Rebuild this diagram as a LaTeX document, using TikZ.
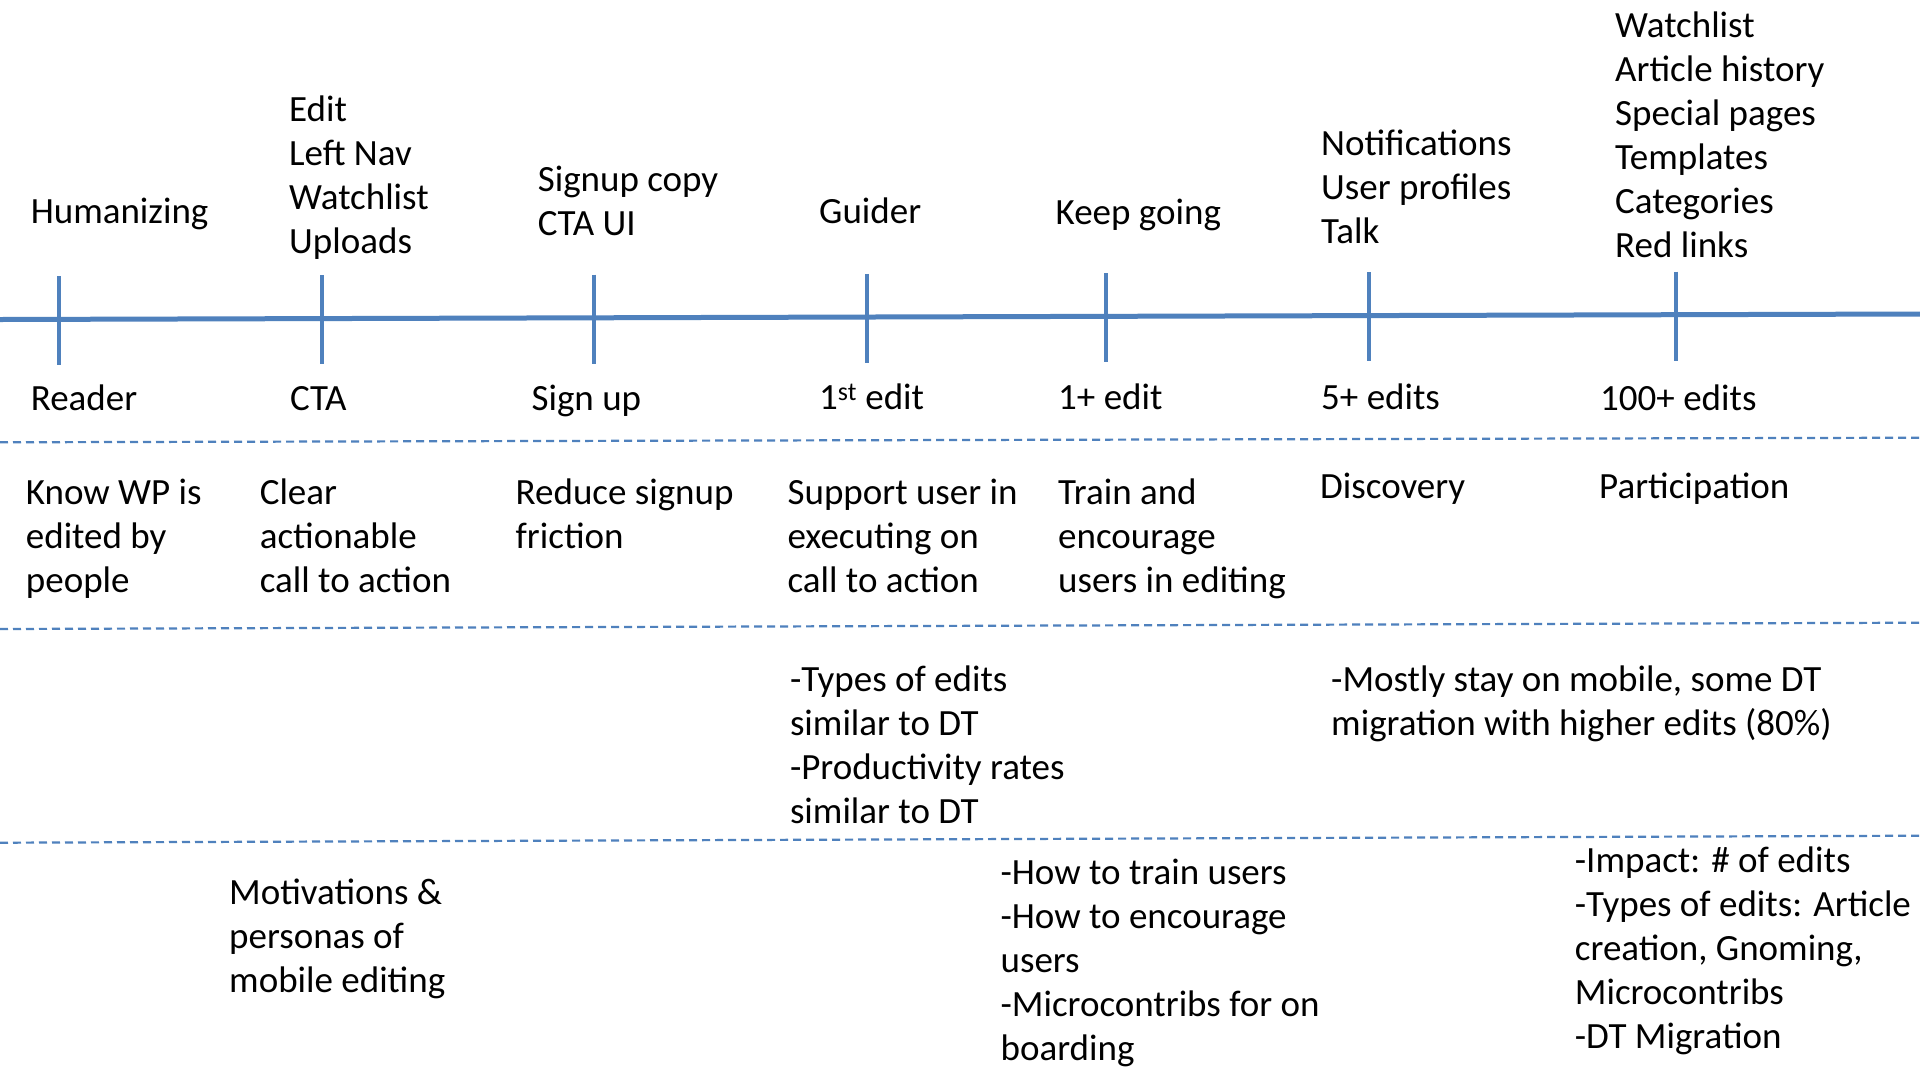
\documentclass[tikz,border=0pt]{standalone}
\usepackage{fontspec}
\setmainfont{Carlito}
\definecolor{lineblue}{HTML}{4F81BD}
\begin{document}
\begin{tikzpicture}[x=1pt,y=-1pt,
  lbl/.style={anchor=base west,inner sep=0pt,align=left,yshift=-1.5pt,font=\fontsize{37pt}{44pt}\selectfont},
  mainline/.style={draw=lineblue,line width=5pt},
  tick/.style={draw=lineblue,line width=3.5pt},
  sep/.style={draw=lineblue,line width=2.2pt,dash pattern=on 8pt off 5pt}]
\useasboundingbox[fill=white] (0,0) rectangle (1920,1080);
% timeline
\coordinate (L0) at (0,319.5);
\coordinate (L1) at (1920,314);
\draw[mainline] (L0) -- (L1);
\foreach \n/\x/\y in {t1/58.8/319.2,t2/322/318.4,t3/594/317.6,t4/867/316.8,t5/1106/316.1,t6/1369/315.4,t7/1676/314.6}{
  \coordinate (\n a) at (\x,\y-43);
  \coordinate (\n b) at (\x,\y+46);
  \draw[tick] (\n a) -- (\n b);
}
% separators
\coordinate (s1a) at (0,442.3); \coordinate (s1b) at (1920,437.7);
\coordinate (s2a) at (0,629);   \coordinate (s2b) at (1920,622.7);
\coordinate (s3a) at (0,842.7); \coordinate (s3b) at (1920,835.7);
\draw[sep] (s1a) -- (s1b);
\draw[sep] (s2a) -- (s2b);
\draw[sep] (s3a) -- (s3b);
% top labels (multi-line nodes: base = last line)
\node[lbl] (top1) at (30.6,222) {Humanizing};
\node[lbl] (top2) at (289,252) {Edit\\Left Nav\\Watchlist\\Uploads};
\node[lbl] (top3) at (537.6,234) {Signup copy\\CTA UI};
\node[lbl] (top4) at (819,222) {Guider};
\node[lbl] (top5) at (1055.5,223) {Keep going};
\node[lbl] (top6) at (1321,242) {Notifications\\User profiles\\Talk};
\node[lbl] (top7) at (1615,256) {Watchlist\\Article history\\Special pages\\Templates\\Categories\\Red links};
% stage labels
\node[lbl] (st1) at (30.6,409) {Reader};
\node[lbl] (st2) at (290,409) {CTA};
\node[lbl] (st3) at (531.4,409) {Sign up};
\node[lbl] (st4) at (819,408) {1\textsuperscript{st} edit};
\node[lbl] (st5) at (1058,408) {1+ edit};
\node[lbl] (st6) at (1321,408) {5+ edits};
\node[lbl] (st7) at (1600,409) {100+ edits};
% goals
\node[lbl] (g1) at (25.7,591) {Know WP is\\edited by\\people};
\node[lbl] (g2) at (259.6,591) {Clear\\actionable\\call to action};
\node[lbl] (g3) at (515.5,547) {Reduce signup\\friction};
\node[lbl] (g4) at (787.4,591) {Support user in\\executing on\\call to action};
\node[lbl] (g5) at (1058,591) {Train and\\encourage\\users in editing};
\node[lbl] (g6) at (1320,497) {Discovery};
\node[lbl] (g7) at (1599,497) {Participation};
% row 3
\node[lbl] (r1) at (789.8,822) {-Types of edits\\similar to DT\\-Productivity rates\\similar to DT};
\node[lbl] (r2) at (1331,734) {-Mostly stay on mobile, some DT\\migration with higher edits (80\%)};
% row 4
\node[lbl] (q1) at (229,991) {Motivations \&\\personas of\\mobile editing};
\node[lbl] (q2) at (1000.4,1059) {-How to train users\\-How to encourage\\users\\-Microcontribs for on\\boarding};
\node[lbl] (q3) at (1574.7,1047) {-Impact: \# of edits\\-Types of edits: Article\\creation, Gnoming,\\Microcontribs\\-DT Migration};
\end{tikzpicture}
\end{document}
